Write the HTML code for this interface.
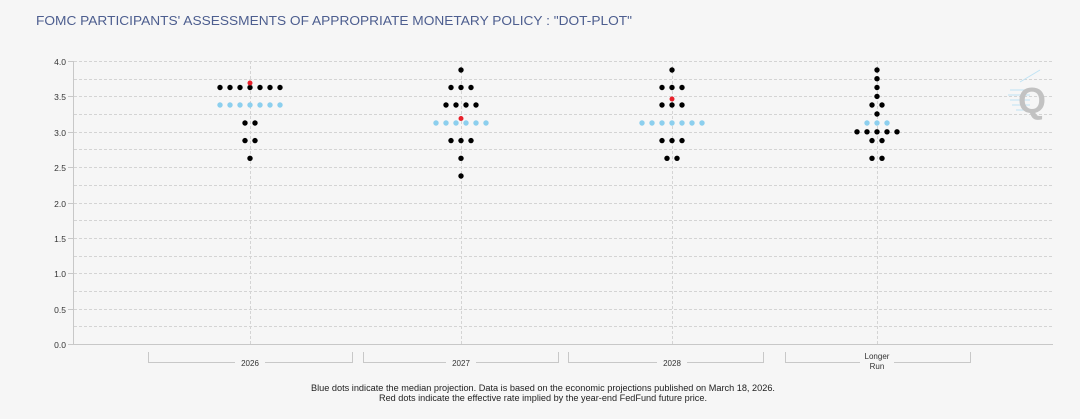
<!DOCTYPE html>
<html><head><meta charset="utf-8"><style>
html,body{margin:0;padding:0;background:#f6f6f6;}
svg{display:block;font-family:"Liberation Sans",sans-serif;}
</style></head><body>
<svg width="1080" height="419" viewBox="0 0 1080 419">
<rect width="1080" height="419" fill="#f6f6f6"/>
<text x="36" y="25" font-size="13" fill="#4d5e8f" textLength="596" lengthAdjust="spacingAndGlyphs">FOMC PARTICIPANTS' ASSESSMENTS OF APPROPRIATE MONETARY POLICY : "DOT-PLOT"</text>
<g stroke="#d4d4d4" stroke-width="1" stroke-dasharray="3,2">
<line x1="74" x2="1053" y1="61.5" y2="61.5"/><line x1="74" x2="1053" y1="79.5" y2="79.5"/>
<line x1="74" x2="1053" y1="96.5" y2="96.5"/><line x1="74" x2="1053" y1="114.5" y2="114.5"/>
<line x1="74" x2="1053" y1="132.5" y2="132.5"/><line x1="74" x2="1053" y1="149.5" y2="149.5"/>
<line x1="74" x2="1053" y1="167.5" y2="167.5"/><line x1="74" x2="1053" y1="185.5" y2="185.5"/>
<line x1="74" x2="1053" y1="203.5" y2="203.5"/><line x1="74" x2="1053" y1="220.5" y2="220.5"/>
<line x1="74" x2="1053" y1="238.5" y2="238.5"/><line x1="74" x2="1053" y1="256.5" y2="256.5"/>
<line x1="74" x2="1053" y1="273.5" y2="273.5"/><line x1="74" x2="1053" y1="291.5" y2="291.5"/>
<line x1="74" x2="1053" y1="309.5" y2="309.5"/><line x1="74" x2="1053" y1="326.5" y2="326.5"/>
<line x1="250.5" x2="250.5" y1="61" y2="344"/><line x1="461.5" x2="461.5" y1="61" y2="344"/>
<line x1="672.5" x2="672.5" y1="61" y2="344"/><line x1="877.5" x2="877.5" y1="61" y2="344"/>
</g>
<g stroke="#c8c8c8" fill="none">
<line x1="73.5" x2="73.5" y1="61" y2="344"/>
<line x1="73" x2="1053" y1="344.5" y2="344.5"/>
<line x1="68" x2="73" y1="61.5" y2="61.5"/><line x1="68" x2="73" y1="96.5" y2="96.5"/>
<line x1="68" x2="73" y1="132.5" y2="132.5"/><line x1="68" x2="73" y1="167.5" y2="167.5"/>
<line x1="68" x2="73" y1="203.5" y2="203.5"/><line x1="68" x2="73" y1="238.5" y2="238.5"/>
<line x1="68" x2="73" y1="273.5" y2="273.5"/><line x1="68" x2="73" y1="309.5" y2="309.5"/>
<line x1="68" x2="73" y1="344.5" y2="344.5"/>
<path d="M148.5 352V362.5H352.5V352"/><path d="M363.5 352V362.5H558.5V352"/>
<path d="M568.5 352V362.5H763.5V352"/><path d="M785.5 352V362.5H970.5V352"/>
</g>
<g font-size="8.5" fill="#333" text-anchor="end">
<text x="66" y="65">4.0</text><text x="66" y="100">3.5</text><text x="66" y="136">3.0</text>
<text x="66" y="171">2.5</text><text x="66" y="207">2.0</text><text x="66" y="242">1.5</text>
<text x="66" y="277">1.0</text><text x="66" y="313">0.5</text><text x="66" y="348">0.0</text>
</g>
<g font-size="8" fill="#333" text-anchor="middle">
<rect x="235" y="358" width="30" height="10" fill="#f6f6f6"/><text x="250" y="366">2026</text>
<rect x="446" y="358" width="30" height="10" fill="#f6f6f6"/><text x="461" y="366">2027</text>
<rect x="657" y="358" width="30" height="10" fill="#f6f6f6"/><text x="672" y="366">2028</text>
<rect x="860" y="350" width="34" height="22" fill="#f6f6f6"/><text x="877" y="359">Longer</text><text x="877" y="369">Run</text>
</g>
<g font-size="9" fill="#222">
<text x="311" y="391" textLength="464" lengthAdjust="spacingAndGlyphs">Blue dots indicate the median projection. Data is based on the economic projections published on March 18, 2026.</text>
<text x="379" y="401" textLength="328" lengthAdjust="spacingAndGlyphs">Red dots indicate the effective rate implied by the year-end FedFund future price.</text>
</g>
<g fill="#8ccfee">
<circle cx="220" cy="105" r="2.7"/><circle cx="230" cy="105" r="2.7"/><circle cx="240" cy="105" r="2.7"/><circle cx="250" cy="105" r="2.7"/><circle cx="260" cy="105" r="2.7"/><circle cx="270" cy="105" r="2.7"/><circle cx="280" cy="105" r="2.7"/>
<circle cx="436" cy="123" r="2.7"/><circle cx="446" cy="123" r="2.7"/><circle cx="456" cy="123" r="2.7"/><circle cx="466" cy="123" r="2.7"/><circle cx="476" cy="123" r="2.7"/><circle cx="486" cy="123" r="2.7"/>
<circle cx="642" cy="123" r="2.7"/><circle cx="652" cy="123" r="2.7"/><circle cx="662" cy="123" r="2.7"/><circle cx="672" cy="123" r="2.7"/><circle cx="682" cy="123" r="2.7"/><circle cx="692" cy="123" r="2.7"/><circle cx="702" cy="123" r="2.7"/>
<circle cx="867" cy="123" r="2.7"/><circle cx="877" cy="123" r="2.7"/><circle cx="887" cy="123" r="2.7"/>
</g>
<g fill="#000">
<circle cx="220" cy="87.5" r="2.7"/><circle cx="230" cy="87.5" r="2.7"/><circle cx="240" cy="87.5" r="2.7"/><circle cx="250" cy="87.5" r="2.7"/><circle cx="260" cy="87.5" r="2.7"/><circle cx="270" cy="87.5" r="2.7"/><circle cx="280" cy="87.5" r="2.7"/>
<circle cx="245" cy="123" r="2.7"/><circle cx="255" cy="123" r="2.7"/>
<circle cx="245" cy="140.6" r="2.7"/><circle cx="255" cy="140.6" r="2.7"/>
<circle cx="250" cy="158.3" r="2.7"/>
<circle cx="461" cy="70" r="2.7"/>
<circle cx="451" cy="87.5" r="2.7"/><circle cx="461" cy="87.5" r="2.7"/><circle cx="471" cy="87.5" r="2.7"/>
<circle cx="446" cy="105" r="2.7"/><circle cx="456" cy="105" r="2.7"/><circle cx="466" cy="105" r="2.7"/><circle cx="476" cy="105" r="2.7"/>
<circle cx="451" cy="140.6" r="2.7"/><circle cx="461" cy="140.6" r="2.7"/><circle cx="471" cy="140.6" r="2.7"/>
<circle cx="461" cy="158.3" r="2.7"/><circle cx="461" cy="176" r="2.7"/>
<circle cx="672" cy="70" r="2.7"/>
<circle cx="662" cy="87.5" r="2.7"/><circle cx="672" cy="87.5" r="2.7"/><circle cx="682" cy="87.5" r="2.7"/>
<circle cx="662" cy="105" r="2.7"/><circle cx="672" cy="105" r="2.7"/><circle cx="682" cy="105" r="2.7"/>
<circle cx="662" cy="140.6" r="2.7"/><circle cx="672" cy="140.6" r="2.7"/><circle cx="682" cy="140.6" r="2.7"/>
<circle cx="667" cy="158.3" r="2.7"/><circle cx="677" cy="158.3" r="2.7"/>
<circle cx="877" cy="70" r="2.7"/><circle cx="877" cy="78.7" r="2.7"/><circle cx="877" cy="87.5" r="2.7"/><circle cx="877" cy="96.4" r="2.7"/>
<circle cx="872" cy="105" r="2.7"/><circle cx="882" cy="105" r="2.7"/>
<circle cx="877" cy="114" r="2.7"/>
<circle cx="857" cy="131.8" r="2.7"/><circle cx="867" cy="131.8" r="2.7"/><circle cx="877" cy="131.8" r="2.7"/><circle cx="887" cy="131.8" r="2.7"/><circle cx="897" cy="131.8" r="2.7"/>
<circle cx="872" cy="140.6" r="2.7"/><circle cx="882" cy="140.6" r="2.7"/>
<circle cx="872" cy="158.3" r="2.7"/><circle cx="882" cy="158.3" r="2.7"/>
</g>
<g fill="#e8202a">
<circle cx="250" cy="83" r="2.5"/><circle cx="461" cy="118.5" r="2.5"/><circle cx="672" cy="99" r="2.5"/>
</g>
<g stroke="#bfe3f4" stroke-width="1">
<line x1="1010" x2="1030" y1="90" y2="90"/><line x1="1008" x2="1030" y1="95" y2="95"/>
<line x1="1010" x2="1030" y1="100" y2="100"/><line x1="1012" x2="1030" y1="105" y2="105"/>
<line x1="1016" x2="1030" y1="110" y2="110"/><line x1="1020" x2="1040" y1="82" y2="70"/>
</g>
<text x="1018" y="113" font-size="36" font-weight="bold" fill="#c2c2c2">Q</text>
</svg>
</body></html>
